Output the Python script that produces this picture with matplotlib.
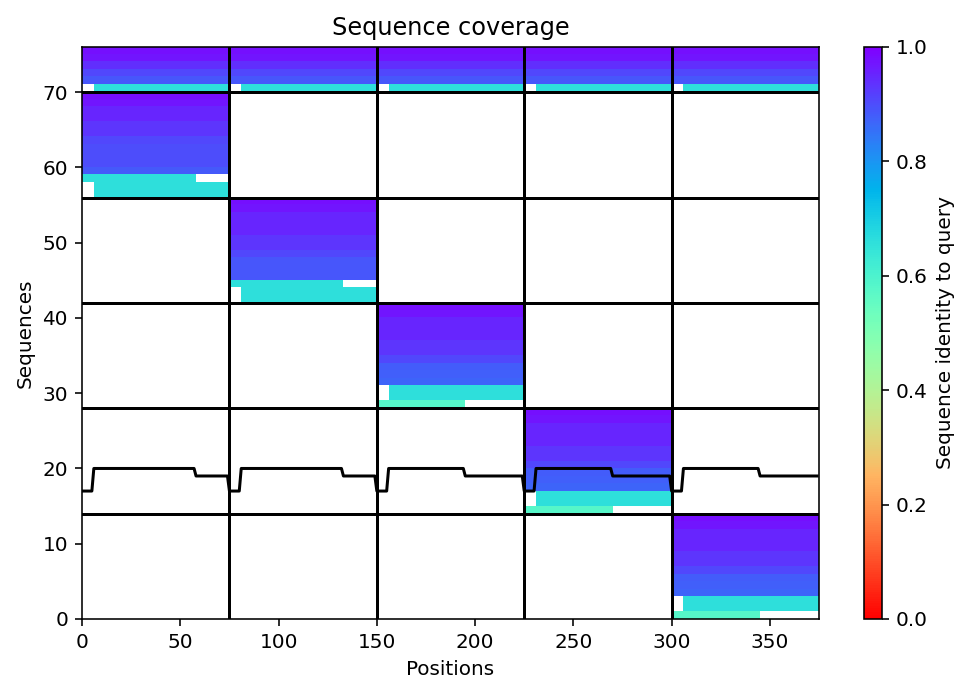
import numpy as np
import matplotlib
matplotlib.use("Agg")
import matplotlib.pyplot as plt

chain_len = 75
n_chains = 5

# identity per row of each block, bottom row first
paired_identity = [0.66, 0.89, 0.91, 0.94, 0.97, 0.98]
paired_gaps = [(0, 0, 6)]          # (row, start, end) inside every chain

chain1_identity = [0.66, 0.66, 0.66, 0.885, 0.90, 0.90, 0.90, 0.91, 0.93, 0.93, 0.95, 0.95, 0.97, 0.98]
chain2_identity = [0.66, 0.66, 0.66, 0.89, 0.89, 0.89, 0.91, 0.93, 0.93, 0.95, 0.95, 0.95, 0.97, 0.98]
chain3_identity = [0.58, 0.66, 0.66, 0.87, 0.875, 0.88, 0.91, 0.93, 0.93, 0.95, 0.95, 0.95, 0.97, 0.98]
chain4_identity = [0.58, 0.66, 0.66, 0.87, 0.875, 0.88, 0.91, 0.93, 0.93, 0.95, 0.95, 0.95, 0.97, 0.98]
chain5_identity = [0.58, 0.66, 0.66, 0.87, 0.875, 0.88, 0.91, 0.93, 0.93, 0.95, 0.95, 0.95, 0.97, 0.98]

chain1_gaps = [(0, 0, 6), (1, 0, 6), (2, 58, 75)]
chain2_gaps = [(0, 0, 6), (1, 0, 6), (2, 58, 75)]
chain3_gaps = [(0, 45, 75), (1, 0, 6), (2, 0, 6)]
chain4_gaps = [(0, 45, 75), (1, 0, 6), (2, 0, 6)]
chain5_gaps = [(0, 45, 75), (1, 0, 6), (2, 0, 6)]

# blocks from the bottom: chain 5 ... chain 1, then paired
unpaired = [(4, chain5_identity, chain5_gaps),
            (3, chain4_identity, chain4_gaps),
            (2, chain3_identity, chain3_gaps),
            (1, chain2_identity, chain2_gaps),
            (0, chain1_identity, chain1_gaps)]

L = chain_len * n_chains
blocks = []
for c, ident, gaps in unpaired:
    b = np.full((len(ident), L), np.nan)
    for r, v in enumerate(ident):
        b[r, c*chain_len:(c+1)*chain_len] = v
    for r, s, e in gaps:
        b[r, c*chain_len+s:c*chain_len+e] = np.nan
    blocks.append(b)

b = np.array(paired_identity)[:, None] * np.ones((1, L))
for r, s, e in paired_gaps:
    for c in range(n_chains):
        b[r, c*chain_len+s:c*chain_len+e] = np.nan
blocks.append(b)

lines = np.concatenate(blocks, 0)
Nn = np.cumsum([0] + [len(x) for x in blocks])
Ln = np.arange(n_chains + 1) * chain_len

fig = plt.figure(figsize=(979/144, 688/144), dpi=144)
ax = fig.add_axes([0.0838, 0.1003, 0.7528, 0.8314])
cax = fig.add_axes([0.8825, 0.1003, 0.0184, 0.8314])

ax.set_title("Sequence coverage")
im = ax.imshow(lines, interpolation='nearest', aspect='auto',
               cmap="rainbow_r", vmin=0, vmax=1, origin='lower',
               extent=(0, lines.shape[1], 0, lines.shape[0]))
for i in Ln[1:-1]:
    ax.plot([i, i], [0, lines.shape[0]], color="black")
for j in Nn[1:-1]:
    ax.plot([0, lines.shape[1]], [j, j], color="black")

ax.plot((np.isnan(lines) == False).sum(0), color='black')
ax.set_xlim(0, lines.shape[1])
ax.set_ylim(0, lines.shape[0])
fig.colorbar(im, cax=cax, label="Sequence identity to query")
ax.set_xlabel("Positions")
ax.set_ylabel("Sequences")

fig.savefig("out.png", dpi=144)
